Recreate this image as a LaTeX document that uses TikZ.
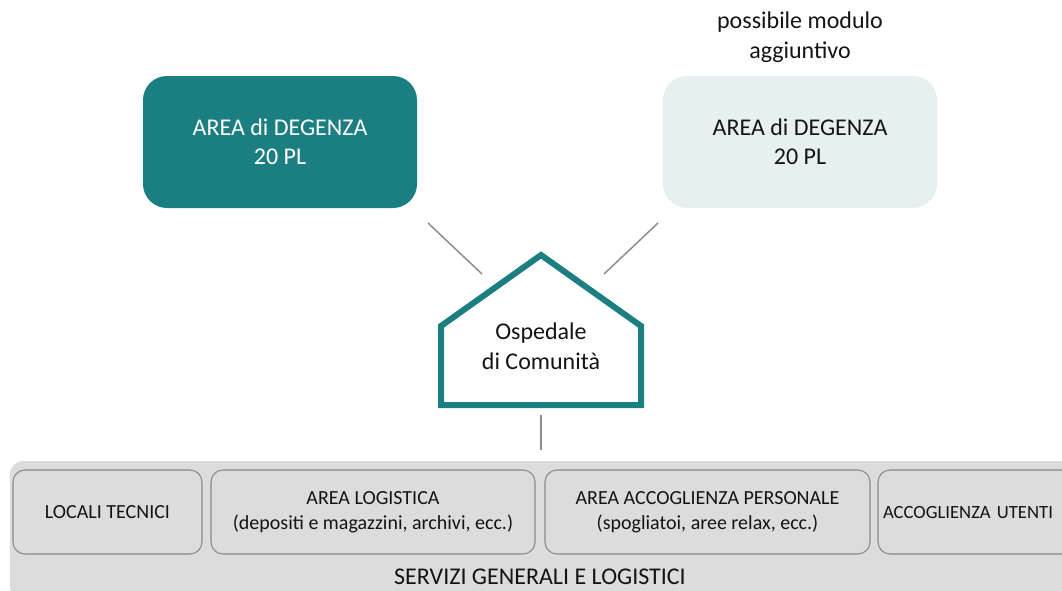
\documentclass[tikz,border=0pt]{standalone}
\usepackage{fontspec}
\setmainfont{Carlito}
\definecolor{teal1}{HTML}{1B7F81}
\definecolor{lightbox}{HTML}{E7F0F1}
\definecolor{bgray}{HTML}{DCDCDC}
\definecolor{bordergray}{HTML}{8A8A8A}
\definecolor{linegray}{HTML}{8C8C8C}
\definecolor{txt}{HTML}{141414}
\tikzset{
  degbox/.style={rounded corners=18pt, minimum width=205.5pt, minimum height=99pt, align=center, inner sep=0pt, font=\fontsize{18}{22}\selectfont},
  subbox/.style={rounded corners=9pt, draw=bordergray, line width=0.8pt, fill=bgray, minimum height=63pt, align=center, inner sep=0pt, text=txt, font=\fontsize{15}{18.75}\selectfont},
  conn/.style={draw=linegray, line width=1.1pt}
}
\begin{document}
\begin{tikzpicture}[x=0.75pt,y=-0.75pt]
\useasboundingbox (0,0) rectangle (1062,590);
\clip (0,0) rectangle (1062,590);
% top boxes
\node[degbox, fill=teal1, text=white] (degL) at (280,142) {AREA di DEGENZA\\20 PL};
\node[degbox, fill=lightbox, text=txt] (degR) at (800,142) {AREA di DEGENZA\\20 PL};
\node[align=center, text=txt, inner sep=0pt, font=\fontsize{18}{22.5}\selectfont] (note) at (800,37) {possibile modulo\\aggiuntivo};
% house
\draw[teal1, line width=4.5pt, line join=miter] (441,405) -- (441,326) -- (541,255) -- (641,326) -- (641,405) -- cycle;
\node[align=center, text=txt, inner sep=0pt, font=\fontsize{18}{22.5}\selectfont] (house) at (541,346) {Ospedale\\di Comunità};
\coordinate (houseL) at (482,274);
\coordinate (houseR) at (604,274);
\coordinate (houseB) at (541,415);
\coordinate (degLc) at (428,223);
\coordinate (degRc) at (658,223);
\coordinate (servT) at (541,450);
\draw[conn] (degLc) -- (houseL);
\draw[conn] (degRc) -- (houseR);
\draw[conn] (houseB) -- (servT);
% services background
\fill[bgray, rounded corners=10pt] (10,461) rectangle (1090,600);
\node[subbox, minimum width=141.75pt] (loc) at (107.5,512) {LOCALI TECNICI};
\node[subbox, minimum width=243pt] (logi) at (373,512) {AREA LOGISTICA\\(depositi e magazzini, archivi, ecc.)};
\node[subbox, minimum width=243.75pt] (pers) at (707.5,512) {AREA ACCOGLIENZA PERSONALE\\(spogliatoi, aree relax, ecc.)};
\node[subbox, minimum width=150pt, text width=142.5pt, align=left, font=\fontsize{14}{18}\selectfont] (ute) at (978,512) {ACCOGLIENZA UTENTI};
\node[text=txt, inner sep=0pt, font=\fontsize{18}{20}\selectfont] (serv) at (540,577) {SERVIZI GENERALI E LOGISTICI};
\end{tikzpicture}
\end{document}
